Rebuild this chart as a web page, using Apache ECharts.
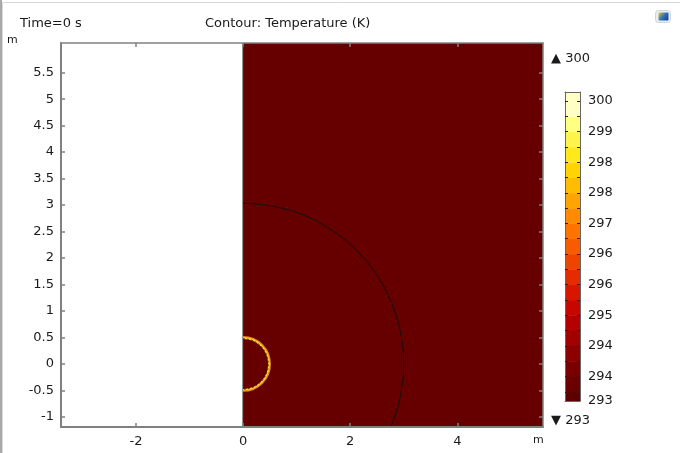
<!DOCTYPE html>
<html><head><meta charset="utf-8">
<script src="https://cdn.jsdelivr.net/npm/echarts@6/dist/echarts.min.js"></script>
<style>html,body{margin:0;padding:0;background:#fff}#c{width:680px;height:453px}</style>
</head><body><div id="c"></div>
<script>
// ---- data ----
const xRange = [-3.4, 5.6];
const yRange = [-1.19, 6.06];
const xTicks = [-2, 0, 2, 4];
const yTicks = [-1, -0.5, 0, 0.5, 1, 1.5, 2, 2.5, 3, 3.5, 4, 4.5, 5, 5.5];
const domainRect = [[0, -1.19, 5.6, 6.06]];      // x0, y0, x1, y1 (m)
const outerBoundary = [[0, 0, 3]];                // cx, cy, r (m)
const hotRing = [[0, 0, 0.5]];                    // cx, cy, r (m)
const cbRange = [293, 300.21];
const cbLabelValues = [300, 299.286, 298.571, 297.857, 297.143, 296.429, 295.714, 295, 294.286, 293.571, 293];
const cbLabels = ['300', '299', '298', '298', '297', '296', '296', '295', '294', '294', '293'];
const cbTickValues = [300, 299.643, 299.286, 298.929, 298.571, 298.214, 297.857, 297.5, 297.143, 296.786, 296.429, 296.071, 295.714, 295.357, 295, 294.643, 294.286, 293.929, 293.571, 293.214];
const cbEdges = [293, 293.214, 293.571, 293.929, 294.286, 294.643, 295, 295.357, 295.714, 296.071, 296.429, 296.786, 297.143, 297.5, 297.857, 298.214, 298.571, 298.929, 299.286, 299.643, 300.21];
const cbColors = ['#5c0000', '#6a0000', '#7a0000', '#8c0000', '#a00000', '#b40000', '#c80600', '#d81600', '#e42c00', '#ee4400', '#f85c00', '#ff7400', '#ff8c00', '#ffa400', '#ffbc00', '#ffd400', '#ffe81c', '#fff44c', '#ffff80', '#ffffc4'];
const maxLabel = '300', minLabel = '293';

const bands = cbColors.map((c, i) => [cbEdges[i], cbEdges[i + 1], i]);

const axisGray = '#808080';
const txt = '#1a1a1a';
const font = 'DejaVu Sans';

function arcItem(strokes) {
  return function (params, api) {
    const c = api.coord([api.value(0), api.value(1)]);
    const r = api.size([api.value(2), 0])[0];
    const children = strokes.map(s => ({
      type: 'arc',
      shape: { cx: c[0], cy: c[1], r: r * s.k, startAngle: -Math.PI / 2, endAngle: Math.PI / 2 },
      style: { fill: null, stroke: s.color, lineWidth: s.w, lineDash: s.dash || null }
    }));
    return { type: 'group', children };
  };
}

function frameAxis(extra) {
  return Object.assign({ type: 'value', z: 10, splitLine: { show: false } }, extra);
}

const chart = echarts.init(document.getElementById('c'));
chart.setOption({
  animation: false,
  backgroundColor: '#fff',
  textStyle: { fontFamily: font },
  grid: [
    { left: 61, right: 137, top: 43, bottom: 26 },
    { left: 565, width: 15, top: 92, bottom: 52 }
  ],
  xAxis: [
    frameAxis({ gridIndex: 0, position: 'bottom', min: xRange[0], max: xRange[1],
      axisLine: { onZero: false, lineStyle: { color: axisGray, width: 2 } },
      axisTick: { inside: true, length: 4, customValues: xTicks, lineStyle: { color: axisGray, width: 1.5 } },
      axisLabel: { customValues: xTicks, color: txt, fontSize: 13, fontFamily: font, margin: 8 } }),
    frameAxis({ gridIndex: 0, position: 'top', min: xRange[0], max: xRange[1],
      axisLine: { onZero: false, lineStyle: { color: axisGray, width: 1.5 } },
      axisTick: { inside: true, length: 4, customValues: xTicks, lineStyle: { color: axisGray, width: 1.5 } },
      axisLabel: { show: false } }),
    frameAxis({ gridIndex: 1, position: 'bottom', min: 0, max: 1,
      axisLine: { onZero: false, lineStyle: { color: '#666', width: 1 } }, axisTick: { show: false },
      axisLabel: { show: false } }),
    frameAxis({ gridIndex: 1, position: 'top', min: 0, max: 1,
      axisLine: { onZero: false, lineStyle: { color: '#666', width: 1 } }, axisTick: { show: false },
      axisLabel: { show: false } })
  ],
  yAxis: [
    frameAxis({ gridIndex: 0, position: 'left', min: yRange[0], max: yRange[1],
      axisLine: { onZero: false, lineStyle: { color: axisGray, width: 2 } },
      axisTick: { inside: true, length: 4, customValues: yTicks, lineStyle: { color: axisGray, width: 1.5 } },
      axisLabel: { customValues: yTicks, color: txt, fontSize: 13, fontFamily: font, margin: 7 } }),
    frameAxis({ gridIndex: 0, position: 'right', min: yRange[0], max: yRange[1],
      axisLine: { onZero: false, lineStyle: { color: axisGray, width: 1.5 } },
      axisTick: { inside: true, length: 4, customValues: yTicks, lineStyle: { color: axisGray, width: 1.5 } },
      axisLabel: { show: false } }),
    frameAxis({ gridIndex: 1, position: 'right', min: cbRange[0], max: cbRange[1],
      axisLine: { onZero: false, lineStyle: { color: '#666', width: 1 } },
      axisTick: { inside: true, length: 3, customValues: cbTickValues, lineStyle: { color: '#222', width: 1 } },
      axisLabel: { customValues: cbLabelValues, color: txt, fontSize: 13, fontFamily: font, margin: 8, padding: [3, 0, 0, 0],
        formatter: v => { let bi = 0, bd = 1e9; cbLabelValues.forEach((t, i) => { const d = Math.abs(t - v); if (d < bd) { bd = d; bi = i; } }); return cbLabels[bi]; } } }),
    frameAxis({ gridIndex: 1, position: 'left', min: cbRange[0], max: cbRange[1],
      axisLine: { onZero: false, lineStyle: { color: '#666', width: 1 } },
      axisTick: { inside: true, length: 3, customValues: cbTickValues, lineStyle: { color: '#222', width: 1 } },
      axisLabel: { show: false } })
  ],
  series: [
    { type: 'custom', xAxisIndex: 0, yAxisIndex: 0, clip: true, data: domainRect, z: 1,
      renderItem: (params, api) => {
        const p0 = api.coord([api.value(0), api.value(1)]);
        const p1 = api.coord([api.value(2), api.value(3)]);
        return { type: 'group', children: [
          { type: 'rect', shape: { x: p0[0], y: p1[1], width: p1[0] - p0[0], height: p0[1] - p1[1] }, style: { fill: '#660000' } },
          { type: 'line', shape: { x1: p0[0], y1: p0[1], x2: p0[0], y2: p1[1] }, style: { stroke: '#2a2a2a', lineWidth: 1.2 } }
        ] };
      } },
    { type: 'custom', xAxisIndex: 0, yAxisIndex: 0, clip: true, data: outerBoundary, z: 3,
      renderItem: arcItem([{ k: 1, color: '#111', w: 1 }]) },
    { type: 'custom', xAxisIndex: 0, yAxisIndex: 0, clip: true, data: hotRing, z: 4,
      renderItem: arcItem([
        { k: 1.0, color: '#f08a10', w: 2.2 },
        { k: 0.965, color: '#ffd840', w: 1.6 },
        { k: 0.945, color: '#3a2000', w: 0.8, dash: [2, 2] }
      ]) },
    { type: 'custom', xAxisIndex: 2, yAxisIndex: 2, clip: true, data: bands, z: 2,
      renderItem: (params, api) => {
        const a = api.coord([0, api.value(1)]);
        const b = api.coord([1, api.value(0)]);
        return { type: 'rect', shape: { x: a[0], y: a[1], width: b[0] - a[0], height: b[1] - a[1] + 0.5 },
          style: { fill: cbColors[api.value(2)] } };
      } }
  ],
  graphic: [
    { type: 'rect', left: 0, top: 0, shape: { width: 679, height: 451 }, style: { fill: null, stroke: '#d8d8d8', lineWidth: 1 }, silent: true },
    { type: 'rect', left: 0, top: 0, shape: { width: 2, height: 453 }, style: { fill: '#a8a8a8' }, silent: true },
    { type: 'text', left: 20, top: 17, style: { text: 'Time=0 s', fontSize: 13, fontFamily: font, fill: txt } },
    { type: 'text', left: 205, top: 17, style: { text: 'Contour: Temperature (K)', fontSize: 13, fontFamily: font, fill: txt } },
    { type: 'text', left: 7, top: 35, style: { text: 'm', fontSize: 11, fontFamily: font, fill: txt } },
    { type: 'text', left: 533, top: 435, style: { text: 'm', fontSize: 11, fontFamily: font, fill: txt } },
    { type: 'text', left: 551, top: 52, style: { text: '\u25B2 ' + maxLabel, fontSize: 13, fontFamily: font, fill: txt } },
    { type: 'text', left: 551, top: 414, style: { text: '\u25BC ' + minLabel, fontSize: 13, fontFamily: font, fill: txt } },
    { type: 'group', left: 655, top: 10, children: [
      { type: 'rect', shape: { x: 0, y: 0, width: 15, height: 12, r: 3 }, style: { fill: '#e8eef4', stroke: '#c8d4e0' } },
      { type: 'rect', shape: { x: 3, y: 2, width: 10, height: 8, r: 1 }, style: { fill: new echarts.graphic.LinearGradient(0, 0, 1, 1, [{ offset: 0, color: '#f0c020' }, { offset: 0.5, color: '#2a70c0' }, { offset: 1, color: '#1a3a80' }]) } }
    ] }
  ]
});
</script></body></html>
